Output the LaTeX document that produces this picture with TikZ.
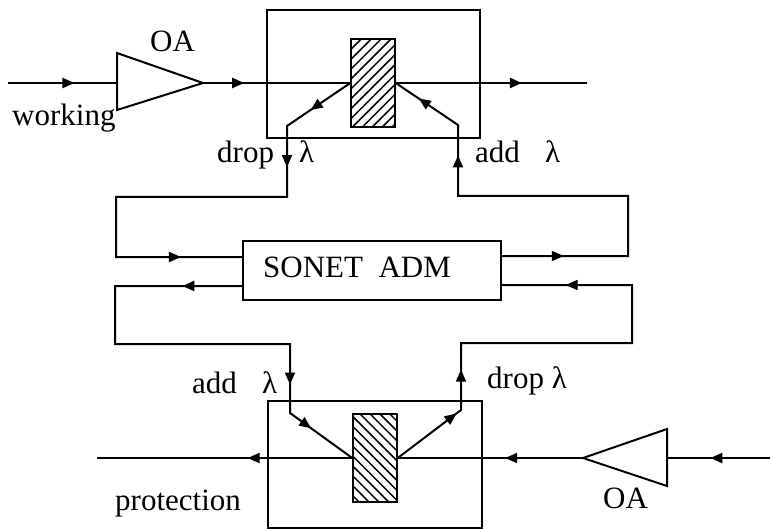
\documentclass[tikz,border=0pt]{standalone}
\usepackage{fontspec}
\setmainfont{Liberation Serif}
\usetikzlibrary{arrows.meta,decorations.markings,patterns.meta}
\tikzset{
  ln/.style={line width=2pt},
  arr/.style={postaction={decorate,decoration={markings,mark=at position #1 with {\arrow{Triangle[length=12pt,width=10pt]}}}}},
  lbl/.style={anchor=base west,inner sep=0pt,font=\fontsize{31}{36}\selectfont},
  boxn/.style={draw,line width=2pt,inner sep=0pt},
  hatch/.style={draw,line width=2pt,inner sep=0pt,minimum width=44pt,minimum height=88pt,
    pattern={Lines[angle=#1,distance=7pt,line width=1.5pt]}},
}
\begin{document}
\begin{tikzpicture}[x=1pt,y=-1pt]
\useasboundingbox (0,0) rectangle (770,529);
% boxes
\node[boxn,minimum width=213pt,minimum height=128pt] (box1) at (373.5,74) {};
\node[hatch=45] (hat1) at (373,83) {};
\node[boxn,minimum width=258pt,minimum height=59pt] (sonet) at (372,270.5) {};
\node[boxn,minimum width=214pt,minimum height=127pt] (box2) at (375,464.5) {};
\node[hatch=-45] (hat2) at (375,458) {};
% coordinates
\coordinate (in1) at (8,83);
\coordinate (oa1a) at (117,53);
\coordinate (oa1b) at (117,110);
\coordinate (oa1l) at (117,83);
\coordinate (oa1t) at (203,83);
\coordinate (out1) at (587,83);
\coordinate (d1a) at (287,126);
\coordinate (d1b) at (287,197);
\coordinate (d1c) at (116,197);
\coordinate (d1d) at (116,257);
\coordinate (a1a) at (628,256);
\coordinate (a1b) at (628,196);
\coordinate (a1c) at (458,196);
\coordinate (a1d) at (458,125);
\coordinate (l2a) at (115,286);
\coordinate (l2b) at (115,344);
\coordinate (l2c) at (290,344);
\coordinate (l2d) at (290,413);
\coordinate (r2a) at (461,410);
\coordinate (r2b) at (461,343);
\coordinate (r2c) at (632,343);
\coordinate (r2d) at (632,285);
\coordinate (in2) at (770,458);
\coordinate (oa2r) at (667,458);
\coordinate (oa2a) at (667,429);
\coordinate (oa2b) at (667,486);
\coordinate (oa2t) at (583,458);
\coordinate (out2) at (97,458);
% amplifiers
\draw[ln,line join=miter] (oa1a) -- (oa1t) -- (oa1b) -- cycle;
\draw[ln,line join=miter] (oa2a) -- (oa2t) -- (oa2b) -- cycle;
% working line
\draw[ln,arr=0.61] (in1) -- (oa1l);
\draw[ln,arr=0.28] (oa1t) -- (hat1.west);
\draw[ln,arr=0.66] (hat1.east) -- (out1);
% top drop / add
\draw[ln,arr=0.095,arr=0.233,arr=0.879] (hat1.west) -- (d1a) -- (d1b) -- (d1c) -- (d1d) -- (sonet.west |- d1d);
\draw[ln,arr=0.123,arr=0.79,arr=0.945] (sonet.east |- a1a) -- (a1a) -- (a1b) -- (a1c) -- (a1d) -- (hat1.east);
% bottom add / drop
\draw[ln,arr=0.118,arr=0.792,arr=0.90] (sonet.west |- l2a) -- (l2a) -- (l2b) -- (l2c) -- (l2d) -- (hat2.west);
\draw[ln,arr=0.146,arr=0.237,arr=0.874] (hat2.east) -- (r2a) -- (r2b) -- (r2c) -- (r2d) -- (sonet.east |- r2d);
% protection line
\draw[ln,arr=0.58] (in2) -- (oa2r);
\draw[ln,arr=0.42] (oa2t) -- (hat2.east);
\draw[ln,arr=0.41] (hat2.west) -- (out2);
% labels
\node[lbl] (oa1lab) at (150,52) {OA};
\node[lbl] (work) at (12,126) {working};
\node[lbl] (drop1) at (217,163) {drop};
\node[lbl] (lam1) at (299,163) {λ};
\node[lbl] (add1) at (475,163) {add};
\node[lbl] (lam2) at (545,163) {λ};
\node[lbl] (sonett) at (263,277) {SONET\hspace{0.5em}ADM};
\node[lbl] (add2) at (192,393) {add};
\node[lbl] (lam3) at (262,393) {λ};
\node[lbl] (drop2) at (487,388) {drop λ};
\node[lbl] (prot) at (115,510) {protection};
\node[lbl] (oa2lab) at (603,508) {OA};
\end{tikzpicture}
\end{document}
